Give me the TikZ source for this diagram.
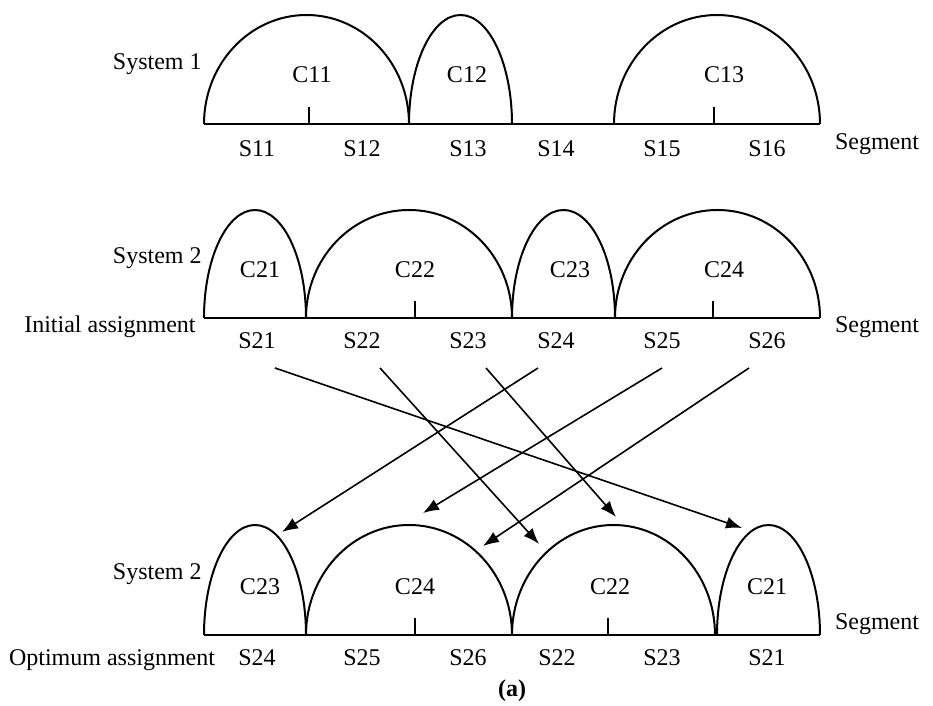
\documentclass[tikz,border=0pt]{standalone}
\usepackage{fontspec}
\setmainfont{Liberation Serif}
\usetikzlibrary{arrows.meta}

\begin{document}
\begin{tikzpicture}[x=0.5pt,y=0.5pt,
  every node/.style={font=\fontsize{12}{14}\selectfont,inner sep=0pt,anchor=base},
  side/.style={anchor=base east},
  line/.style={line width=1pt},
  move/.style={-{Latex[length=8pt,width=6pt]},line width=0.8pt}]
\useasboundingbox (0,0) rectangle (933,706);

% System 1
\draw[line] (204,582) -- (820,582);
\draw[line] (204,582) arc[start angle=180,end angle=0,x radius=102.5,y radius=109];
\draw[line] (409,582) arc[start angle=180,end angle=0,x radius=51.5,y radius=109];
\draw[line] (614,582) arc[start angle=180,end angle=0,x radius=103,y radius=109];
\draw[line] (309,582) -- (309,599);
\draw[line] (714,582) -- (714,599);
\node[side] (sys1) at (202,636) {System 1};
\node (c11) at (312,623) {C11};
\node (c12) at (467,623) {C12};
\node (c13) at (724,623) {C13};
\node (s11) at (257,549) {S11};
\node (s12) at (362,549) {S12};
\node (s13) at (468,549) {S13};
\node (s14) at (556,549) {S14};
\node (s15) at (662,549) {S15};
\node (s16) at (767,549) {S16};
\node (seg1) at (877,556) {Segment};

% System 2, initial
\draw[line] (204,388) -- (820,388);
\draw[line] (204,388) arc[start angle=180,end angle=0,x radius=51,y radius=108];
\draw[line] (306,388) arc[start angle=180,end angle=0,x radius=103,y radius=108];
\draw[line] (512,388) arc[start angle=180,end angle=0,x radius=51.5,y radius=108];
\draw[line] (615,388) arc[start angle=180,end angle=0,x radius=102.5,y radius=108];
\draw[line] (415,388) -- (415,405);
\draw[line] (713,388) -- (713,405);
\node[side] (sys2) at (202,442) {System 2};
\node[side] (init) at (196,373) {Initial assignment};
\node (c21) at (260,428) {C21};
\node (c22) at (415,428) {C22};
\node (c23) at (570,428) {C23};
\node (c24) at (724,428) {C24};
\node (s21) at (257,357) {S21};
\node (s22) at (362,357) {S22};
\node (s23) at (468,357) {S23};
\node (s24) at (556,357) {S24};
\node (s25) at (662,357) {S25};
\node (s26) at (767,357) {S26};
\node (seg2) at (877,373) {Segment};

% System 2, optimum
\draw[line] (204,71) -- (820,71);
\draw[line] (204,71) arc[start angle=180,end angle=0,x radius=51,y radius=110];
\draw[line] (306,71) arc[start angle=180,end angle=0,x radius=103,y radius=110];
\draw[line] (512,71) arc[start angle=180,end angle=0,x radius=101.5,y radius=110];
\draw[line] (717,71) arc[start angle=180,end angle=0,x radius=51.5,y radius=110];
\draw[line] (415,71) -- (415,88);
\draw[line] (608,71) -- (608,88);
\node[side] (sys3) at (202,126) {System 2};
\node (opt) at (112,40) {Optimum assignment};
\node (oc23) at (260,111) {C23};
\node (oc24) at (415,111) {C24};
\node (oc22) at (610,111) {C22};
\node (oc21) at (767,111) {C21};
\node (os24) at (257,40) {S24};
\node (os25) at (362,40) {S25};
\node (os26) at (468,40) {S26};
\node (os22) at (557,40) {S22};
\node (os23) at (662,40) {S23};
\node (os21) at (767,40) {S21};
\node (seg3) at (877,76) {Segment};
\node[font=\fontsize{12}{14}\selectfont\bfseries] (cap) at (512,9) {(a)};

% reassignment
\coordinate (f21) at (275,338);
\coordinate (f22) at (380,338);
\coordinate (f23) at (486,338);
\coordinate (f24) at (538,338);
\coordinate (f25) at (662,338);
\coordinate (f26) at (749,338);
\coordinate (t21) at (742,178);
\coordinate (t22) at (539,162);
\coordinate (t23) at (616,189);
\coordinate (t24) at (282,174);
\coordinate (t25) at (423,193);
\coordinate (t26) at (483,160);
\draw[move] (f21) -- (t21);
\draw[move] (f22) -- (t22);
\draw[move] (f23) -- (t23);
\draw[move] (f24) -- (t24);
\draw[move] (f25) -- (t25);
\draw[move] (f26) -- (t26);
\end{tikzpicture}
\end{document}
